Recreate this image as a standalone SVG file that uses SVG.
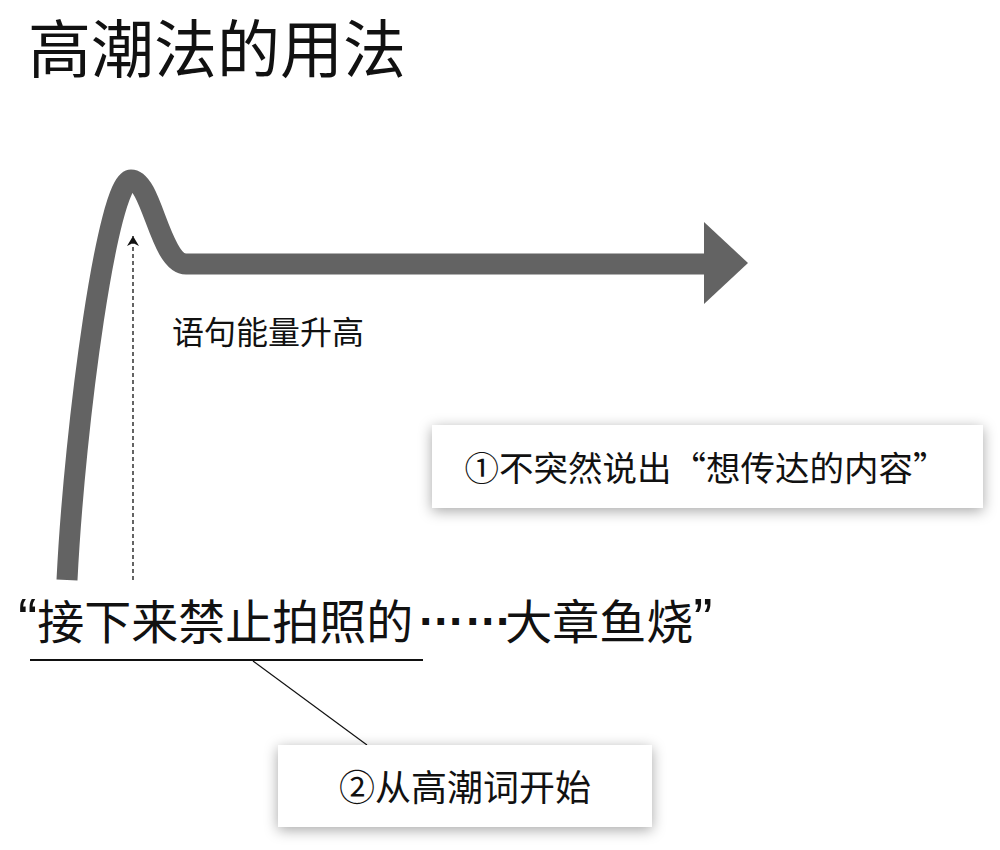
<svg xmlns="http://www.w3.org/2000/svg" width="1000" height="850" viewBox="0 0 1000 850">
  <style>
    .t { font-family: "Noto Sans CJK SC", "Noto Sans", sans-serif; fill: #111; }
    .p { font-family: "Liberation Sans", Arial, sans-serif; }
    .box { fill: #fff; filter: url(#shadow); }
  </style>
  <defs>
    <filter id="shadow" x="-10%" y="-40%" width="120%" height="180%">
      <feDropShadow dx="0" dy="3" stdDeviation="7" flood-color="#000" flood-opacity="0.35"/>
    </filter>
    <marker id="tip" viewBox="0 0 10 12" refX="10" refY="6" markerWidth="10" markerHeight="12" markerUnits="userSpaceOnUse" orient="auto">
      <path d="M0,0 L10,6 L0,12 L3,6 Z" fill="#111"/>
    </marker>
  </defs>
  <rect width="1000" height="850" fill="#fff"/>

  <g id="title">
    <text class="t" x="28" y="72" font-size="63">高潮法的用法</text>
  </g>

  <g id="connectors">
    <path d="M67,580 C75,420 108,180 131,180 C152,180 160,264 186,264 L712,264" fill="none" stroke="#636363" stroke-width="21"/>
    <polygon points="704,222 748,263 704,304" fill="#636363"/>
    <line x1="133" y1="580" x2="133" y2="236" stroke="#111" stroke-width="1.3" stroke-dasharray="4 3" marker-end="url(#tip)"/>
    <line x1="30" y1="660" x2="423" y2="660" stroke="#111" stroke-width="2.2"/>
    <line x1="253" y1="661" x2="367" y2="745" stroke="#111" stroke-width="1.2"/>
  </g>

  <g id="energy-label">
    <text class="t" x="172" y="344" font-size="32">语句能量升高</text>
  </g>

  <g id="quote">
    <text class="t" x="18" y="639" font-size="47"><tspan class="p" font-size="58">“</tspan>接下来禁止拍照的<tspan class="p" font-weight="bold" dx="4" dy="-14">……</tspan><tspan dx="-6" dy="14">大章鱼烧</tspan><tspan class="p" font-size="58">”</tspan></text>
  </g>

  <g id="box1">
    <rect class="box" x="432" y="425" width="551" height="83"/>
    <text class="t" x="706" y="481" font-size="34.5" text-anchor="middle">①不突然说出“想传达的内容”</text>
  </g>

  <g id="box2">
    <rect class="box" x="278" y="745" width="374" height="82"/>
    <text class="t" x="465" y="801" font-size="36" text-anchor="middle">②从高潮词开始</text>
  </g>
</svg>
